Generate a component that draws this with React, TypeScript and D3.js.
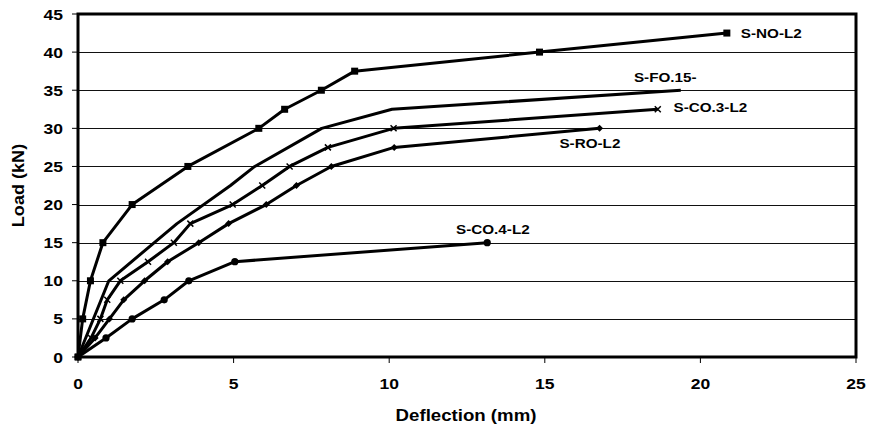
import React from "react";
import * as d3 from "d3";

const xTicks = [0, 5, 10, 15, 20, 25];
const yTicks = [0, 5, 10, 15, 20, 25, 30, 35, 40, 45];

const sNO_x = [0, 0.15, 0.4, 0.8, 1.74, 3.53, 5.81, 6.64, 7.82, 8.89, 14.83, 20.85];
const sNO_y = [0, 5, 10, 15, 20, 25, 30, 32.5, 35, 37.5, 40, 42.5];

const sFO_x = [0, 0.99, 3.18, 4.9, 5.68, 7.83, 10.09, 19.37];
const sFO_y = [0, 10, 17.5, 22.5, 25, 30, 32.5, 35];

const sCO3_x = [0, 0.42, 0.72, 0.94, 1.36, 2.25, 3.08, 3.61, 4.97, 5.92, 6.8, 8.03, 10.14, 18.63];
const sCO3_y = [0, 2.5, 5, 7.5, 10, 12.5, 15, 17.5, 20, 22.5, 25, 27.5, 30, 32.5];

const sRO_x = [0, 0.55, 1.01, 1.47, 2.14, 2.88, 3.88, 4.84, 6.05, 7.02, 8.14, 10.16, 16.76];
const sRO_y = [0, 2.5, 5, 7.5, 10, 12.5, 15, 17.5, 20, 22.5, 25, 27.5, 30];

const sCO4_x = [0, 0.9, 1.74, 2.77, 3.56, 5.04, 13.15];
const sCO4_y = [0, 2.5, 5, 7.5, 10, 12.5, 15];

const seriesNames = ["S-NO-L2", "S-FO.15-", "S-CO.3-L2", "S-RO-L2", "S-CO.4-L2"];
const seriesX = [sNO_x, sFO_x, sCO3_x, sRO_x, sCO4_x];
const seriesY = [sNO_y, sFO_y, sCO3_y, sRO_y, sCO4_y];
const markerTypes = ["square", "none", "cross", "diamond", "circle"];
// label anchor positions in data units (x, load)
const labelX = [22.28, 18.87, 20.32, 16.45, 13.33];
const labelY = [41.79, 36.12, 32.18, 27.46, 16.14];

const W = 872, H = 432;
const left = 78, right = 856, top = 14, bottom = 357;

const xScale = d3.scaleLinear().domain([0, 25]).range([left, right]);
const yScale = d3.scaleLinear().domain([0, 45]).range([bottom, top]);
const font = "'Liberation Sans', Arial, sans-serif";
const SX = 1.13;

function Marker({ type, cx, cy }: { type: string; cx: number; cy: number }) {
  if (type === "square") return <rect x={cx - 3.5} y={cy - 3.5} width={7} height={7} fill="#000" />;
  if (type === "circle") return <circle cx={cx} cy={cy} r={3.6} fill="#000" />;
  if (type === "diamond") return <path d={`M${cx},${cy - 3.5}L${cx + 3.5},${cy}L${cx},${cy + 3.5}L${cx - 3.5},${cy}Z`} fill="#000" />;
  if (type === "cross")
    return (
      <path d={`M${cx - 3},${cy - 3}L${cx + 3},${cy + 3}M${cx - 3},${cy + 3}L${cx + 3},${cy - 3}`} stroke="#000" strokeWidth={1.5} />
    );
  return null;
}

function SText({ x, y, size, anchor, children, rotate }: any) {
  const tf = rotate
    ? `translate(${x},${y}) rotate(-90) scale(${SX},1)`
    : `translate(${x},${y}) scale(${SX},1)`;
  return (
    <text transform={tf} fontFamily={font} fontWeight="bold" fontSize={size} textAnchor={anchor} fill="#000">
      {children}
    </text>
  );
}

export default function App() {
  const line = d3
    .line<[number, number]>()
    .x((d) => xScale(d[0]))
    .y((d) => yScale(d[1]));

  return (
    <svg width={W} height={H} style={{ position: "absolute", left: 0, top: 0, background: "#fff" }}>
      <rect x={0} y={0} width={W} height={H} fill="#fff" />
      {yTicks.filter((t) => t > 0 && t < 45).map((t) => (
        <line key={t} x1={left} x2={right} y1={Math.round(yScale(t)) + 0.5} y2={Math.round(yScale(t)) + 0.5} stroke="#111" strokeWidth={1} />
      ))}
      {yTicks.map((t) => (
        <g key={"yt" + t}>
          <line x1={left - 6} x2={left} y1={yScale(t)} y2={yScale(t)} stroke="#000" strokeWidth={1} />
          <SText x={63} y={yScale(t) + 5.5} size={15.5} anchor="end">{t}</SText>
        </g>
      ))}
      {xTicks.map((t) => (
        <g key={"xt" + t}>
          <line x1={xScale(t)} x2={xScale(t)} y1={bottom} y2={bottom + 6} stroke="#000" strokeWidth={1} />
          <SText x={xScale(t)} y={389} size={15.5} anchor="middle">{t}</SText>
        </g>
      ))}
      {seriesNames.map((name, i) => {
        const pts: [number, number][] = seriesX[i].map((x, j) => [x, seriesY[i][j]]);
        return (
          <g key={name}>
            <path d={line(pts) || ""} fill="none" stroke="#000" strokeWidth={3} strokeLinejoin="round" />
            {pts.map((p, j) => (
              <Marker key={j} type={markerTypes[i]} cx={xScale(p[0])} cy={yScale(p[1])} />
            ))}
          </g>
        );
      })}
      <rect x={left} y={top} width={right - left} height={bottom - top} fill="none" stroke="#000" strokeWidth={3} />
      {seriesNames.map((name, i) => (
        <SText key={"l" + name} x={xScale(labelX[i])} y={yScale(labelY[i])} size={13.5} anchor="middle">{name}</SText>
      ))}
      <SText x={466} y={421} size={16.5} anchor="middle">Deflection (mm)</SText>
      <SText x={24} y={(top + bottom) / 2} size={16} anchor="middle" rotate>Load (kN)</SText>
    </svg>
  );
}
